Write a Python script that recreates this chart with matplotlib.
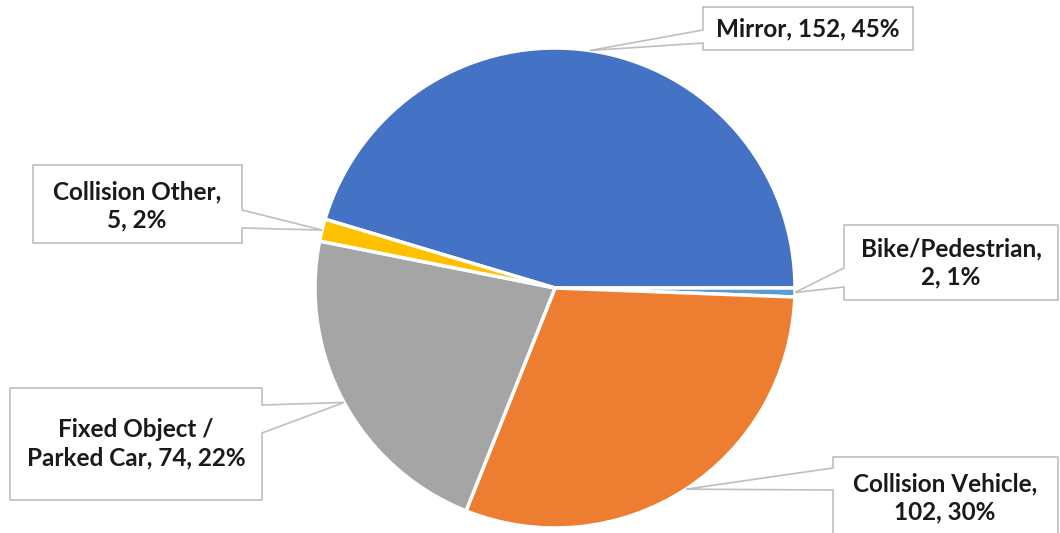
import matplotlib.pyplot as plt
from matplotlib.patches import Polygon
import numpy as np

# chart data
categories = ['Mirror', 'Bike/Pedestrian', 'Collision Vehicle',
              'Fixed Object / Parked Car', 'Collision Other']
counts = [152, 2, 102, 74, 5]
percents = [45, 1, 30, 22, 2]
label_text = ['Mirror, 152, 45%',
              'Bike/Pedestrian,\n2, 1%',
              'Collision Vehicle,\n102, 30%',
              'Fixed Object /\nParked Car, 74, 22%',
              'Collision Other,\n5, 2%']
colors = ['#4472C4', '#5B9BD5', '#ED7D31', '#A5A5A5', '#FFC000']

# callout boxes (pixel layout): x0, x1, y0, y1, pointer side, opening y range, text centre
boxes = [
    dict(x0=703, x1=913, y0=483, y1=526, side='left', ya=490, yb=503, tx=808, ty=504),
    dict(x0=844, x1=1058, y0=233, y1=308, side='left', ya=246, yb=265, tx=951, ty=270),
    dict(x0=833, x1=1058, y0=-5, y1=76, side='left', ya=43, yb=65, tx=945, ty=35),
    dict(x0=10, x1=262, y0=33, y1=145, side='right', ya=100, yb=128, tx=136, ty=89),
    dict(x0=33, x1=242, y0=290, y1=368, side='right', ya=305, yb=323, tx=137, ty=327),
]

cx, cy, r = 555, 245, 240


def callout(ax, b, tip):
    x0, x1, y0, y1 = b['x0'], b['x1'], b['y0'], b['y1']
    if b['side'] == 'left':
        pts = [(x0, y0), (x1, y0), (x1, y1), (x0, y1), (x0, b['yb']), tip, (x0, b['ya'])]
    else:
        pts = [(x0, y0), (x1, y0), (x1, b['ya']), tip, (x1, b['yb']), (x1, y1), (x0, y1)]
    ax.add_patch(Polygon(pts, closed=True, fc='white', ec='#BFBFBF', lw=1.2, zorder=3))


fig = plt.figure(figsize=(10.6, 5.33), dpi=100)
ax = fig.add_axes([0, 0, 1, 1])

total = sum(counts)
start = 360 * counts[0] / total
wedges, _ = ax.pie(counts, colors=colors, startangle=start, counterclock=False,
                   center=(cx, cy), radius=r,
                   wedgeprops=dict(edgecolor='white', linewidth=2.5))

for w, b, txt in zip(wedges, boxes, label_text):
    mid = np.deg2rad((w.theta1 + w.theta2) / 2)
    tip = (cx + r * np.cos(mid), cy + r * np.sin(mid))
    callout(ax, b, tip)
    ax.text(b['tx'], b['ty'], txt, ha='center', va='center', fontsize=17.5,
            fontweight='bold', family='Lato', color='#1A1A1A',
            linespacing=1.3, zorder=4)

ax.set_xlim(0, 1060)
ax.set_ylim(0, 533)
ax.set_aspect('equal')
ax.axis('off')

plt.savefig('out.png', dpi=100)
